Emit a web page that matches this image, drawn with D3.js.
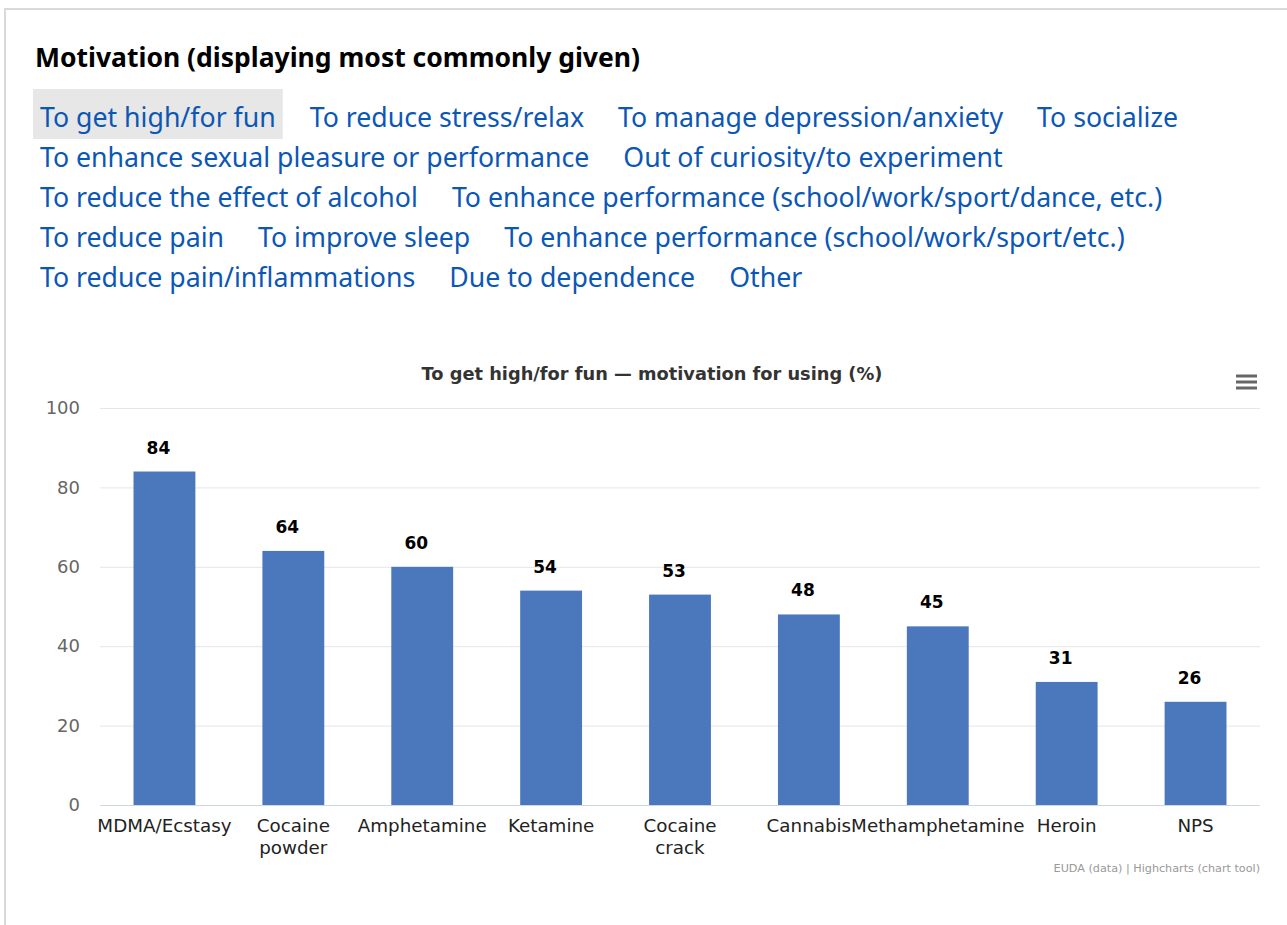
<!DOCTYPE html>
<html>
  <head>
    <title>Motivation for using</title>
    <style>
      body { margin: 0; background: #fff; }
      svg { display: block; }
    </style>
  </head>
  <body>
    <script src="https://d3js.org/d3.v7.min.js"></script>
    <script>

// page header + links
var pageTitle = "Motivation (displaying most commonly given)";
var motivationRows = [
  ["To get high/for fun", "To reduce stress/relax", "To manage depression/anxiety", "To socialize"],
  ["To enhance sexual pleasure or performance", "Out of curiosity/to experiment"],
  ["To reduce the effect of alcohol", "To enhance performance (school/work/sport/dance, etc.)"],
  ["To reduce pain", "To improve sleep", "To enhance performance (school/work/sport/etc.)"],
  ["To reduce pain/inflammations", "Due to dependence", "Other"]
];
var selected = "To get high/for fun";

// chart data
var chartTitle = "To get high/for fun \u2014 motivation for using (%)";
var substances = ["MDMA/Ecstasy", "Cocaine powder", "Amphetamine", "Ketamine", "Cocaine crack",
                  "Cannabis", "Methamphetamine", "Heroin", "NPS"];
var percents = [84, 64, 60, 54, 53, 48, 45, 31, 26];
var yTicks = [0, 20, 40, 60, 80, 100];
var credits = "EUDA (data) | Highcharts (chart tool)";

var width = 1287,
    height = 925;

var svg = d3.select("body").append("svg")
    .attr("width", width)
    .attr("height", height);

// card border
svg.append("path")
    .attr("d", "M5," + height + "V9H" + width)
    .attr("fill", "none")
    .attr("stroke", "#d9d9d9")
    .attr("stroke-width", 2);

svg.append("text")
    .attr("x", 35)
    .attr("y", 67)
    .style("font-family", "'Noto Sans', 'Open Sans', sans-serif")
    .style("font-weight", "bold")
    .style("font-size", "26.5px")
    .attr("fill", "#000")
    .text(pageTitle);

// links, laid out row by row
var linkFont = "'Noto Sans', 'Open Sans', sans-serif";
motivationRows.forEach(function (row, r) {
  var x = 40, y = 127 + r * 40;
  row.forEach(function (label) {
    var g = svg.append("g");
    var bg = g.append("rect");
    var t = g.append("text")
        .attr("x", x)
        .attr("y", y)
        .style("font-family", linkFont)
        .style("font-size", "26.7px")
        .attr("fill", "#0b57b5")
        .text(label);
    var w = t.node().getComputedTextLength();
    if (label === selected) {
      bg.attr("x", x - 7).attr("y", y - 38).attr("width", w + 14).attr("height", 50)
        .attr("fill", "#e6e7e6");
    } else {
      bg.remove();
    }
    x += w + 34;
  });
});

// ---- chart ----
var margin = {left: 100, right: 1260, top: 408, bottom: 805};

var x = d3.scaleBand()
    .domain(substances)
    .range([margin.left, margin.right]);

var y = d3.scaleLinear()
    .domain([0, 100])
    .range([margin.bottom, margin.top]);

var chartFont = "'DejaVu Sans', sans-serif";

svg.append("text")
    .attr("x", 652)
    .attr("y", 380)
    .attr("text-anchor", "middle")
    .style("font-family", chartFont)
    .style("font-weight", "bold")
    .style("font-size", "17.8px")
    .attr("fill", "#333")
    .text(chartTitle);

// menu icon
svg.append("g").selectAll("line")
  .data([376, 382, 388])
  .enter().append("line")
    .attr("x1", 1236).attr("x2", 1257)
    .attr("y1", function (d) { return d; })
    .attr("y2", function (d) { return d; })
    .attr("stroke", "#666")
    .attr("stroke-width", 3);

// gridlines
svg.append("g").selectAll("line")
  .data(yTicks.filter(function (d) { return d > 0; }))
  .enter().append("line")
    .attr("x1", margin.left).attr("x2", margin.right)
    .attr("y1", function (d) { return y(d) + 0.5; })
    .attr("y2", function (d) { return y(d) + 0.5; })
    .attr("stroke", "#e6e6e6");

var yAxis = svg.append("g")
    .attr("transform", "translate(" + (margin.left - 20) + ",0)")
    .call(d3.axisLeft(y).tickValues(yTicks).tickSize(0).tickPadding(0));
yAxis.select(".domain").remove();
yAxis.selectAll("text")
    .style("font-family", chartFont)
    .style("font-size", "18px")
    .attr("fill", "#666");

// bars
var barW = x.bandwidth() * 0.48;
svg.append("g").selectAll("rect")
  .data(percents)
  .enter().append("rect")
    .attr("x", function (d, i) { return x(substances[i]) + (x.bandwidth() - barW) / 2; })
    .attr("y", function (d) { return y(d); })
    .attr("width", barW)
    .attr("height", function (d) { return y(0) - y(d); })
    .attr("fill", "#4b78bc");

// data labels (highcharts puts them a touch left of centre)
svg.append("g").selectAll("text")
  .data(percents)
  .enter().append("text")
    .attr("x", function (d, i) { return x(substances[i]) + x.bandwidth() / 2 - 6; })
    .attr("y", function (d) { return y(d) - 18; })
    .attr("text-anchor", "middle")
    .style("font-family", chartFont)
    .style("font-weight", "bold")
    .style("font-size", "17px")
    .attr("fill", "#000")
    .text(function (d) { return d; });

// x axis line
svg.append("line")
    .attr("x1", margin.left).attr("x2", margin.right)
    .attr("y1", y(0) + 0.5).attr("y2", y(0) + 0.5)
    .attr("stroke", "#ccd6eb");

// x labels, wrapped to the band width
var xl = svg.append("g").selectAll("text")
  .data(substances)
  .enter().append("text")
    .attr("x", function (d) { return x(d) + x.bandwidth() / 2; })
    .attr("y", 832)
    .attr("text-anchor", "middle")
    .style("font-family", chartFont)
    .style("font-size", "18.3px")
    .attr("fill", "#222");

xl.each(function (d) {
  var el = d3.select(this), cx = +el.attr("x");
  var words = d.split(" "), line = [];
  var ts = el.append("tspan").attr("x", cx);
  words.forEach(function (w) {
    line.push(w);
    ts.text(line.join(" "));
    if (ts.node().getComputedTextLength() > x.bandwidth() - 10 && line.length > 1) {
      line.pop();
      ts.text(line.join(" "));
      line = [w];
      ts = el.append("tspan").attr("x", cx).attr("dy", 22).text(w);
    }
  });
});

svg.append("text")
    .attr("x", margin.right)
    .attr("y", 872)
    .attr("text-anchor", "end")
    .style("font-family", chartFont)
    .style("font-size", "11.2px")
    .attr("fill", "#999")
    .text(credits);

    </script>
  </body>
</html>
